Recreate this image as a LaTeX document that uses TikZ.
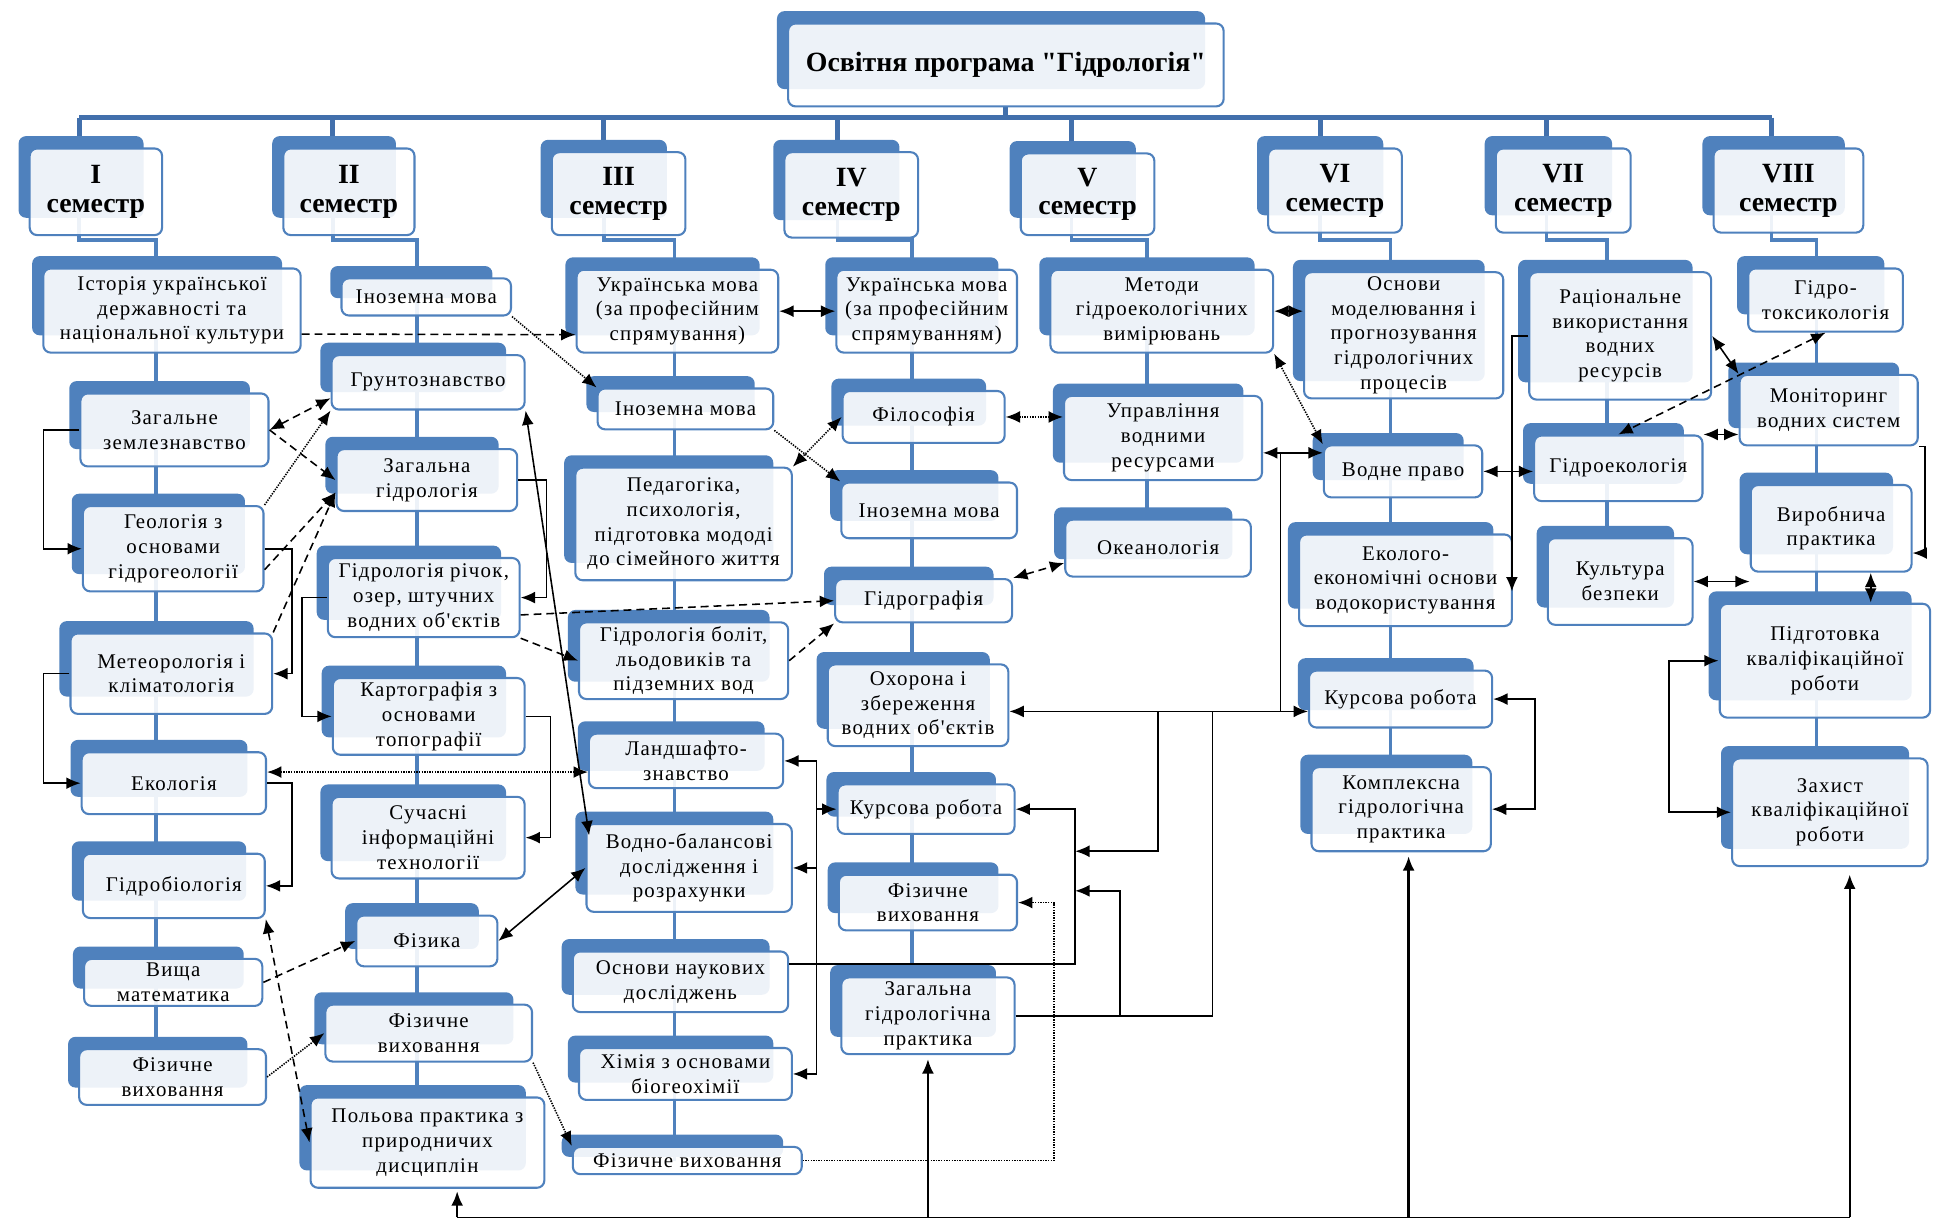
\documentclass[tikz,border=0pt]{standalone}
\usepackage{fontspec}
\setmainfont{Liberation Serif}
\newfontfamily\subjfont[LetterSpace=6]{Liberation Serif}
\usepackage{tikz}
\usetikzlibrary{arrows.meta,calc}
\definecolor{BoxBlue}{RGB}{79,129,189}
\definecolor{BarBlue}{RGB}{66,112,172}
\pgfdeclarelayer{background}
\pgfsetlayers{background,main}

\tikzset{
  subj/.style={draw=BoxBlue, line width=1.2pt, rounded corners=1.5mm, fill=white, fill opacity=0.9, text opacity=1,
    inner sep=0pt, align=center, font=\subjfont\fontsize{12}{14.2}\selectfont},
  sem/.style={subj, font=\bfseries\fontsize{16}{16.5}\selectfont},
  back/.style={fill=BoxBlue, rounded corners=1.5mm},
  chain/.style={draw=BoxBlue, line width=2pt},
  bar/.style={draw=BarBlue, line width=3pt},
  link/.style={line width=0.9pt, >={Latex[length=2.9mm,width=2.4mm]}},
  dash link/.style={link, dash pattern=on 1.6mm off 1mm},
  dot link/.style={link, line width=0.9pt, dash pattern=on 0.8pt off 0.7pt}
}

% \subj[style]{name}{x1}{y1}{x2}{y2}{text}
\newcommand{\subj}[7][subj]{%
  \fill[back] ({#3-9},{#4-10}) rectangle ({#5-15},{#6-14});
  \node[#1, minimum width={(#5-#3)*0.25mm}, minimum height={(#6-#4)*0.25mm}]
    (#2) at ({(#3+#5)/2},{(#4+#6)/2}) {#7};}

\begin{document}
\begin{tikzpicture}[x=0.25mm, y=-0.25mm]
\useasboundingbox (0,0) rectangle (1568,986);

\subj[sem]{title}{637}{19}{989}{86}{Освітня програма \textquotedbl Гідрологія\textquotedbl}

\subj[sem]{s1}{24}{120}{131}{190}{I\\семестр}
\subj[sem]{s2}{229}{120}{335}{190}{II\\семестр}
\subj[sem]{s3}{446}{123}{554}{190}{III\\семестр}
\subj[sem]{s4}{634}{123}{742}{192}{IV\\семестр}
\subj[sem]{s5}{825}{124}{933}{190}{V\\семестр}
\subj[sem]{s6}{1025}{120}{1133}{188}{VI\\семестр}
\subj[sem]{s7}{1209}{120}{1318}{188}{VII\\семестр}
\subj[sem]{s8}{1385}{120}{1506}{188}{VIII\\семестр}

\subj{a1}{35}{217}{243}{285}{Історія української\\державності та\\національної культури}
\subj{a2}{65}{318}{217}{377}{Загальне\\землезнавство}
\subj{a3}{67}{409}{213}{478}{Геологія з\\основами\\гідрогеології}
\subj{a4}{57}{512}{220}{577}{Метеорологія і\\кліматологія}
\subj{a5}{66}{608}{215}{658}{Екологія}
\subj{a6}{67}{690}{214}{742}{Гідробіологія}
\subj{a7}{68}{775}{212}{813}{Вища\\математика}
\subj{a8}{64}{848}{215}{893}{Фізичне\\виховання}

\subj{b1}{276}{225}{413}{255}{Іноземна мова}
\subj{b2}{268}{287}{424}{331}{Грунтознавство}
\subj{b3}{272}{363}{418}{413}{Загальна\\гідрологія}
\subj{b4}{265}{451}{420}{515}{Гідрологія річок,\\озер, штучних\\водних об'єктів}
\subj{b5}{269}{548}{424}{610}{Картографія з\\основами\\топографії}
\subj{b6}{268}{644}{424}{710}{Сучасні\\інформаційні\\технології}
\subj{b7}{288}{740}{402}{781}{Фізика}
\subj{b8}{263}{812}{430}{858}{Фізичне\\виховання}
\subj{b9}{251}{887}{440}{960}{Польова практика з\\природничих\\дисциплін}

\subj{c1}{466}{218}{629}{285}{Українська мова\\(за професійним\\спрямування)}
\subj{c2}{483}{314}{625}{347}{Іноземна мова}
\subj{c3}{465}{378}{640}{469}{Педагогіка,\\психологія,\\підготовка мододі\\до сімейного життя}
\subj{c4}{468}{503}{637}{565}{Гідрологія боліт,\\льодовиків та\\підземних вод}
\subj{c5}{476}{593}{633}{637}{Ландшафто-\\знавство}
\subj{c6}{474}{666}{640}{737}{Водно-балансові\\дослідження і\\розрахунки}
\subj{c7}{463}{769}{637}{818}{Основи наукових\\досліджень}
\subj{c8}{468}{847}{640}{889}{Хімія з основами\\біогеохімії}
\subj{c9}{463}{927}{648}{949}{Фізичне виховання}

\subj{d1}{676}{218}{822}{285}{Українська мова\\(за професійним\\спрямуванням)}
\subj{d2}{681}{316}{812}{358}{Філософія}
\subj{d3}{680}{390}{822}{435}{Іноземна мова}
\subj{d4}{675}{468}{818}{503}{Гідрографія}
\subj{d5}{669}{537}{815}{603}{Охорона і\\збереження\\водних об'єктів}
\subj{d6}{677}{634}{820}{674}{Курсова робота}
\subj{d7}{678}{707}{822}{752}{Фізичне\\виховання}
\subj{d8}{680}{790}{820}{852}{Загальна\\гідрологічна\\практика}

\subj{e1}{849}{218}{1029}{285}{Методи\\гідроекологічних\\вимірювань}
\subj{e2}{860}{320}{1020}{388}{Управління\\водними\\ресурсами}
\subj{e3}{861}{420}{1011}{466}{Океанологія}

\subj{f1}{1054}{220}{1215}{322}{Основи\\моделювання і\\прогнозування\\гідрологічних\\процесів}
\subj{f2}{1070}{360}{1198}{402}{Водне право}
\subj{f3}{1050}{432}{1222}{506}{Еколого-\\економічні основи\\водокористування}
\subj{f4}{1058}{542}{1206}{588}{Курсова робота}
\subj{f5}{1060}{620}{1205}{688}{Комплексна\\гідрологічна\\практика}

\subj{g1}{1236}{220}{1383}{323}{Раціональне\\використання\\водних\\ресурсів}
\subj{g2}{1240}{352}{1376}{405}{Гідроекологія}
\subj{g3}{1251}{435}{1368}{505}{Культура\\безпеки}

\subj{h1}{1413}{217}{1538}{268}{Гідро-\\токсикологія}
\subj{h2}{1406}{303}{1550}{360}{Моніторинг\\водних систем}
\subj{h3}{1415}{392}{1545}{462}{Виробнича\\практика}
\subj{h4}{1390}{488}{1560}{580}{Підготовка\\кваліфікаційної\\роботи}
\subj{h5}{1400}{613}{1558}{700}{Захист\\кваліфікаційної\\роботи}

\coordinate (bar) at (0,95);
\coordinate (step) at (0,194);
\coordinate (tI) at (64,0);    \coordinate (colI) at (126,0);
\coordinate (tII) at (269,0);  \coordinate (colII) at (337,0);
\coordinate (tIII) at (488,0); \coordinate (colIII) at (545,0);
\coordinate (tIV) at (677,0);  \coordinate (colIV) at (737,0);
\coordinate (tV) at (866,0);   \coordinate (colV) at (927,0);
\coordinate (tVI) at (1067,0); \coordinate (colVI) at (1124,0);
\coordinate (tVII) at (1250,0); \coordinate (colVII) at (1299,0);
\coordinate (tVIII) at (1432,0); \coordinate (colVIII) at (1468,0);

\begin{pgfonlayer}{background}
\draw[bar] (tI |- bar) -- (tVIII |- bar);
\draw[bar] (title) -- (title |- bar);
\foreach \cl/\sm/\fs/\ls in {I/s1/a1/a8, II/s2/b1/b9, III/s3/c1/c9, IV/s4/d1/d8, V/s5/e1/e3, VI/s6/f1/f5, VII/s7/g1/g3, VIII/s8/h1/h5}{
  \draw[bar] (t\cl |- bar) -- (t\cl |- \sm);
  \draw[chain] (t\cl |- \sm) -- (t\cl |- step) -| (col\cl |- \fs);
  \draw[chain] (col\cl |- \fs) -- (col\cl |- \ls);
}
\end{pgfonlayer}

\draw[link,->] (a2.west) -- ++(-29,0) |- (a3.west);
\draw[link,->] (a4.west) -- ++(-21,0) |- (a5.west);
\draw[link,->] (a3.east) -- ++(22,0) |- (a4.east);
\draw[link,->] (a5.east) -- ++(20,0) |- (a6.east);

\draw[link,->] (b3.east) -- ++(23,0) |- (b4.east);
\draw[link,->] (b4.west) -- ++(-20,0) |- (b5.west);
\draw[link,->] (b5.east) -- ++(20,0) |- (b6.east);
\draw[link,<->] (b2.south east) -- ($(c6.north west)+(3,10)$);
\draw[link,<->] (b7.east) -- (c6.west);

\draw[link,<->] (c1.east) -- (d1.west);
\coordinate (busE) at (660,0);
\draw[link] (busE |- c5.east) -- (busE |- c8.east);
\foreach \nd in {c5,c6,c8} \draw[link,->] (busE |- \nd.east) -- (\nd.east);
\draw[link,->] (busE |- d6.west) -- (d6.west);

\coordinate (j1) at (1035,366);
\coordinate (j2) at (0,575);
\draw[link,<->] (e2.east |- j1) -- (f2.west |- j1);
\draw[link] (j1) -- (j1 |- j2);
\draw[link,<->] (d5.east |- j2) -- (f4.west |- j2);
\draw[link,->] (c7.east |- 0,779) -- (869,779) |- (d6.east);
\draw[link,->] (936,575) |- (869,688);
\draw[link] (d8.east) -| (980,575);
\draw[link,->] (905,0 |- d8.east) |- (869,720);
\draw[dot link,->] (c9.east) -- (852,0 |- c9.east) |- (d7.east);

\draw[link,<->] (e1.east) -- (e1.east -| f1.west);
\draw[link,<->] (f2.east) -- (f2.east -| g2.west);
\draw[link,->] (g1.west) -| (1222,478);
\draw[link,<->] (f4.east) -- ++(34,0) |- (f5.east);

\draw[link,<->] (g1.east) -- (h2.north west);
\draw[link,<->] (g2.north east) -- (g2.north east -| h2.west);
\draw[link,<->] (g3.east) -- (g3.east -| h3.west);
\draw[link,->] (h2.south east) -- ++(5,0) |- ($(h3.east)+(0,20)$);
\draw[link,<->,line width=1.4pt] ($(h3.south)+(32,0)$) -- ($(h4.north)+(37,0)$);
\draw[link,<->,line width=1.3pt] (h4.west) -- ++(-40,0) |- (h5.west);

\coordinate (base) at (0,984);
\draw[link,line width=0.6pt] ([xshift=6mm]b9.south |- base) -- ([xshift=4mm]h5.south |- base);
\draw[link,->,line width=1.3pt] ([xshift=6mm]b9.south |- base) -- ([xshift=6mm,yshift=-0.5mm]b9.south);
\draw[link,->,line width=1.3pt] (d8.south |- base) -- ([yshift=-0.8mm]d8.south);
\draw[link,->,line width=1.3pt] ([xshift=1.5mm]f5.south |- base) -- ([xshift=1.5mm,yshift=-0.8mm]f5.south);
\draw[link,->,line width=1.3pt] ([xshift=4mm]h5.south |- base) -- ([xshift=4mm,yshift=-1.5mm]h5.south);

\draw[dash link,->] ($(a1.east)+(0,19)$) -- ($(c1.west)+(0,19)$);
\draw[dash link,<->] (a2.east) -- ($(b2.south west)+(0,-10)$);
\draw[dash link,->] (a2.east) -- (b3.west);
\draw[dash link,->] ($(a3.east)+(0,17)$) -- ($(b3.west)+(0,10)$);
\draw[dash link,->] (a4.north east) -- ($(b3.west)+(0,10)$);
\draw[dot link,->] (a3.north east) -- (b2.south west);
\draw[dash link,<->] (a6.south east) -- (b9.west);
\draw[dash link,->] (a7.east) -- (b7.west);
\draw[dot link,<->] ($(c5.west -| a5.east)+(0,9)$) -- ($(c5.west)+(0,9)$);
\draw[dot link,->] (a8.east) -- (b8.west);
\draw[dot link,->] (b8.south east) -- (c9.north west);
\draw[dot link,->] (b1.south east) -- (c2.north west);
\draw[dot link,->] (c2.south east) -- (d3.north west);
\draw[dot link,<->] (d2.west) -- (c3.north east);
\draw[dot link,<->] (d2.east) -- (d2.east -| e2.west);
\draw[dot link,<->] (e1.south east) -- (f2.north west);
\draw[dash link,->] ($(b4.east)+(0,14)$) -- (d4.west);
\draw[dash link,->] (b4.south east) -- (c4.west);
\draw[dash link,->] (c4.east) -- (d4.south west);
\draw[dash link,<->] (d4.north east) -- ($(e3.west)+(0,12)$);
\draw[dash link,<->] (h1.south) -- (g2.north);

\end{tikzpicture}
\end{document}
